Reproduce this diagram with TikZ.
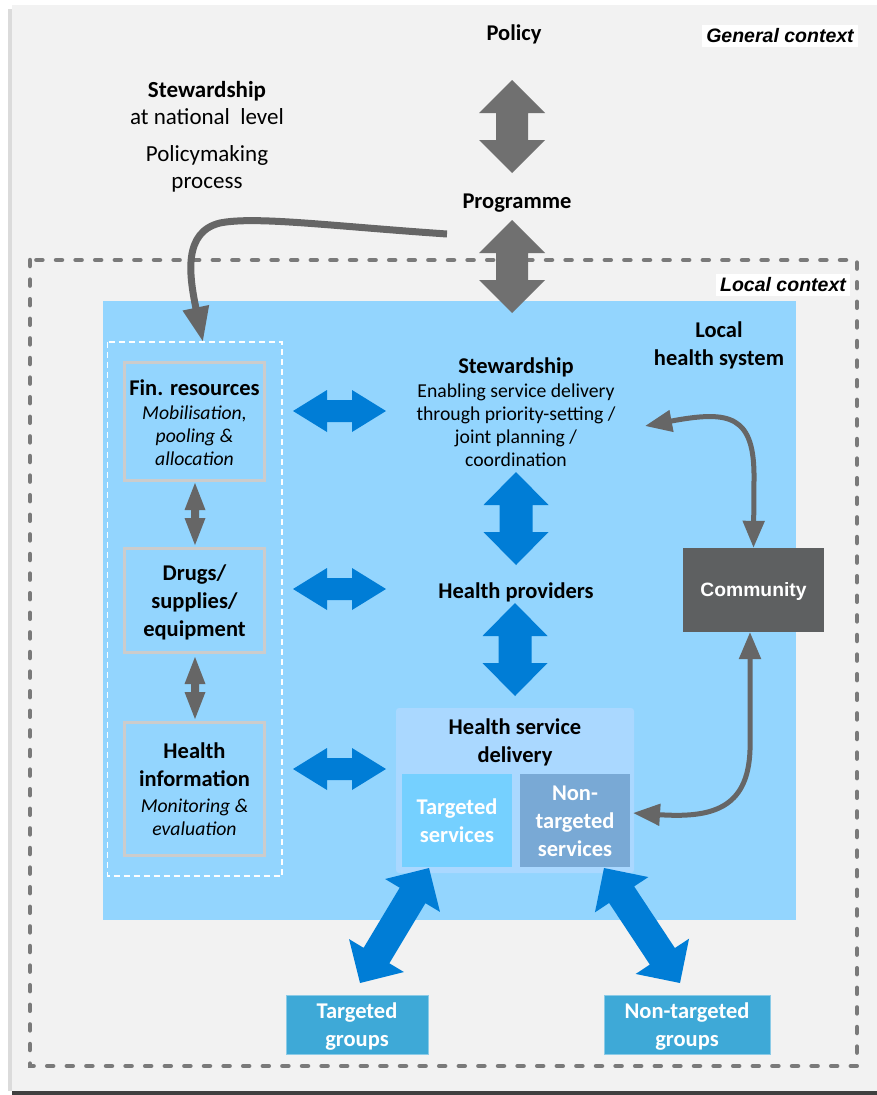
\documentclass[tikz,border=0pt]{standalone}
\usepackage{fontspec}
\setmainfont{Carlito}
\newfontfamily\arialf{Liberation Sans}
\usetikzlibrary{calc,arrows.meta}
\definecolor{bggray}{RGB}{242,242,242}
\definecolor{lhsblue}{RGB}{147,213,254}
\definecolor{hsdblue}{RGB}{170,216,255}
\definecolor{tsblue}{RGB}{117,208,255}
\definecolor{ntsblue}{RGB}{121,169,213}
\definecolor{arrblue}{RGB}{0,125,214}
\definecolor{grpblue}{RGB}{62,169,215}
\definecolor{commgray}{RGB}{94,96,97}
\definecolor{arrgray}{RGB}{112,112,112}
\definecolor{curvegray}{RGB}{102,102,102}
\definecolor{dashgray}{RGB}{122,122,122}
\definecolor{boxborder}{RGB}{204,204,204}
% double block arrow: #1 style, #2 A, #3 B, #4 head length, #5 head half width, #6 shaft half width
\newcommand{\dbarrow}[6]{%
\fill[#1] (#2)
 -- ($(#2)!#4!(#3)!#5!90:(#3)$)
 -- ($(#2)!#4!(#3)!#6!90:(#3)$)
 -- ($(#3)!#4!(#2)!#6!-90:(#2)$)
 -- ($(#3)!#4!(#2)!#5!-90:(#2)$)
 -- (#3)
 -- ($(#3)!#4!(#2)!#5!90:(#2)$)
 -- ($(#3)!#4!(#2)!#6!90:(#2)$)
 -- ($(#2)!#4!(#3)!#6!-90:(#3)$)
 -- ($(#2)!#4!(#3)!#5!-90:(#3)$)
 -- cycle;}
\tikzset{
 every node/.style={inner sep=0pt},
 strutted/.style={execute at begin node=\strut, execute at end node=\strut, yshift=-3pt},
 bt/.style={font=\fontsize{22.5}{28}\selectfont\bfseries, align=center, strutted},
 rt/.style={font=\fontsize{19.7}{23}\selectfont, align=center, strutted},
 it/.style={font=\fontsize{19.7}{23}\selectfont\itshape, align=center, strutted},
 nt/.style={font=\fontsize{23}{27}\selectfont, align=center, strutted},
 ntb/.style={font=\fontsize{23}{27}\selectfont\bfseries, align=center, strutted},
 ctx/.style={font=\arialf\fontsize{19.5}{23}\selectfont\bfseries\itshape, fill=white, inner xsep=4pt, inner ysep=4pt},
 compbox/.style={draw=boxborder, line width=3pt, fill=lhsblue},
 grpbox/.style={fill=grpblue, draw=grpblue!60!white, line width=1pt},
 curve/.style={draw=curvegray, line width=5pt, {Triangle[length=27pt,width=21pt]}-{Triangle[length=27pt,width=21pt]}},
}
\begin{document}
\begin{tikzpicture}[x=1pt,y=-1pt]
\useasboundingbox (0,0) rectangle (877,1095);
% background
\fill[black!14] (8,9) rectangle (12,1091);
\fill[bggray] (12,5) rectangle (877,1091);
\fill[black!75] (12,1091) rectangle (877,1095);
% local context dashed frame
\draw[dashgray, line width=4.5pt, line cap=round, dash pattern=on 6pt off 13.6pt] (30,260) rectangle (857,1066);
% local health system
\fill[lhsblue] (103,301) rectangle (796,920);
\draw[white, line width=1.5pt, dash pattern=on 6pt off 4pt] (107.5,342) rectangle (282,876);

% context labels
\node[ctx] (gencontext) at (780,36) {General context};
\node[ctx] (loccontext) at (783,285) {Local context};

% top texts
\node[bt] (policy) at (514,32) {Policy};
\node[ntb] (stewnat) at (207,89) {Stewardship};
\node[nt] (natlevel) at (207,116) {at national\ \ level};
\node[nt] (policymaking) at (207,168) {Policymaking\\process};
\node[bt] (programme) at (517,200) {Programme};

% local health system label
\node[bt] (localhs) at (719,345) {Local\\health system};

% stewardship
\node[bt] (stew) at (516,365) {Stewardship};
\node[rt] (stewtext) at (516,426) {Enabling service delivery\\through priority-setting /\\joint planning /\\coordination};

% left component boxes
\node[compbox, minimum width=140, minimum height=118] (fin) at (194.5,421.5) {};
\node[bt] (fintitle) at (194.5,387) {Fin. resources};
\node[it] (finsub) at (194.5,436) {Mobilisation,\\pooling \&\\allocation};

\node[compbox, minimum width=140, minimum height=104] (drugs) at (194.5,600.5) {};
\node[bt] (drugstext) at (194.5,602) {Drugs/\\supplies/\\equipment};

\node[compbox, minimum width=140, minimum height=133] (hinfo) at (194.5,789) {};
\node[bt] (hinfotitle) at (194.5,766) {Health\\information};
\node[it] (hinfosub) at (194.5,817.5) {Monitoring \&\\evaluation};

% health providers
\node[bt] (providers) at (516,590) {Health providers};

% community
\node[fill=commgray, minimum width=141, minimum height=84] (comm) at (753.5,590) {};
\node[font=\arialf\fontsize{19.3}{23}\selectfont\bfseries, text=white] (commtext) at (753.5,592) {Community};

% health service delivery
\fill[hsdblue, rounded corners=3pt] (396,708) rectangle (634,873);
\node[bt] (hsd) at (515,741.5) {Health service\\delivery};
\node[fill=tsblue, minimum width=110, minimum height=93] (tserv) at (457,820.5) {};
\node[bt, text=white] (tservtext) at (457,822) {Targeted\\services};
\node[fill=ntsblue, minimum width=110, minimum height=93] (ntserv) at (575,820.5) {};
\node[bt, text=white] (ntservtext) at (575,822.5) {Non-\\targeted\\services};

% target groups
\node[grpbox, minimum width=142, minimum height=59] (tgroups) at (357,1024.5) {};
\node[bt, text=white] (tgroupstext) at (357,1026) {Targeted\\groups};
\node[grpbox, minimum width=166, minimum height=59] (ntgroups) at (687,1024.5) {};
\node[bt, text=white] (ntgroupstext) at (687,1026) {Non-targeted\\groups};

% block arrow end points
\coordinate (a1s) at (512,80);   \coordinate (a1e) at (512,173);
\coordinate (a2s) at (512,220);  \coordinate (a2e) at (512,313);
\coordinate (v1s) at (516,472);  \coordinate (v1e) at (516,565);
\coordinate (v2s) at (515,603);  \coordinate (v2e) at (515,696);
\coordinate (h1s) at (293,411);  \coordinate (h1e) at (386,411);
\coordinate (h2s) at (293,589);  \coordinate (h2e) at (386,589);
\coordinate (h3s) at (293,769);  \coordinate (h3e) at (386,769);
\coordinate (s1s) at (195,483);  \coordinate (s1e) at (195,545);
\coordinate (s2s) at (195,657);  \coordinate (s2e) at (195,719);
\coordinate (d1s) at (429,868);  \coordinate (d1e) at (360,983);
\coordinate (d2s) at (604,868);  \coordinate (d2e) at (680,983);

\dbarrow{arrgray}{a1s}{a1e}{33pt}{33pt}{16pt}
\dbarrow{arrgray}{a2s}{a2e}{33pt}{33pt}{16pt}
\dbarrow{arrblue}{v1s}{v1e}{33pt}{32.5pt}{16.5pt}
\dbarrow{arrblue}{v2s}{v2e}{33pt}{32.5pt}{16.5pt}
\dbarrow{arrblue}{h1s}{h1e}{34pt}{21pt}{11pt}
\dbarrow{arrblue}{h2s}{h2e}{34pt}{21pt}{11pt}
\dbarrow{arrblue}{h3s}{h3e}{34pt}{21pt}{11pt}
\dbarrow{curvegray}{s1s}{s1e}{27pt}{10.5pt}{4pt}
\dbarrow{curvegray}{s2s}{s2e}{27pt}{10.5pt}{4pt}
\dbarrow{arrblue}{d1s}{d1e}{32pt}{32pt}{15pt}
\dbarrow{arrblue}{d2s}{d2e}{32pt}{32pt}{15pt}

% curved connectors
\coordinate (natstart) at (447,234);
\coordinate (fintop) at (203,342);
\draw[curvegray, line width=7pt, -{Triangle[length=35pt,width=25pt]}]
  (natstart) .. controls (330,226) and (255,216) .. (220,223)
  .. controls (183,232) and (189,275) .. (fintop);
\coordinate (stewR) at (645,426);
\draw[curve] (stewR) .. controls (730,410) and (755,415) .. (754,480) -- (comm.north);
\coordinate (commB) at (750,632);
\coordinate (ntservR) at (633,813);
\draw[curve] (commB) -- (750,750) .. controls (748,810) and (710,818) .. (ntservR);
\end{tikzpicture}
\end{document}
